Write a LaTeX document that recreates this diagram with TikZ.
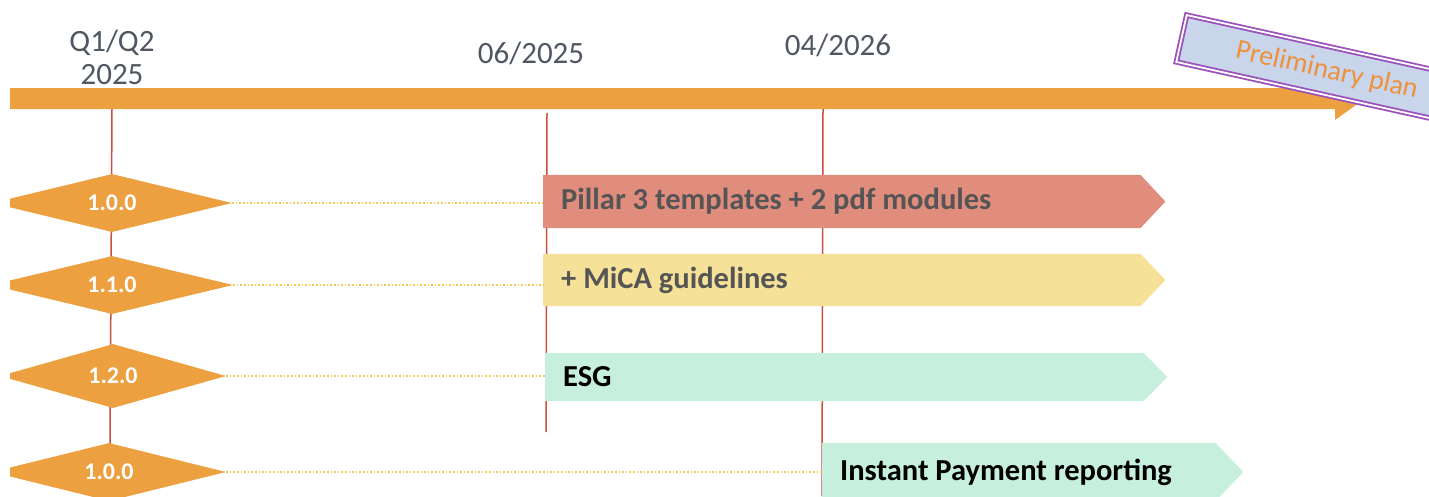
\documentclass[tikz,border=0pt]{standalone}
\usepackage{fontspec}
\setmainfont{Carlito}
\usetikzlibrary{shapes.geometric,positioning,backgrounds}

\definecolor{barorange}{HTML}{EDA040}
\definecolor{markerred}{HTML}{C9503E}
\definecolor{linkyellow}{HTML}{F2CB4E}
\definecolor{pillarred}{HTML}{E08D7D}
\definecolor{micayellow}{HTML}{F5E197}
\definecolor{esgmint}{HTML}{C6EFDE}
\definecolor{labelgray}{HTML}{4F5763}
\definecolor{boxgray}{HTML}{555555}
\definecolor{planblue}{HTML}{C9D5EA}
\definecolor{planpurple}{HTML}{9B50BA}
\definecolor{planorange}{HTML}{EE913A}

\begin{document}
\begin{tikzpicture}[
    x=1pt, y=-1pt,
    release/.style = {diamond, aspect=4, fill=barorange, minimum width=240pt, minimum height=58pt,
                      inner sep=0pt, text=white, font=\fontsize{24}{24}\selectfont\bfseries},
    module/.style  = {rectangle, anchor=west, inner xsep=18pt, inner ysep=0pt,
                      align=flush left, font=\fontsize{30.5}{30.5}\selectfont\bfseries},
    datelabel/.style = {text=labelgray, align=center, font=\fontsize{31}{33}\selectfont},
    marker/.style  = {draw=markerred, line width=1.5pt},
    link/.style    = {draw=linkyellow, dotted, line width=1.6pt},
  ]
	\useasboundingbox (0,0) rectangle (1429,496);
	\clip (10,0) rectangle (1429,496);

	% Zeitachse
	\fill[barorange] (10,88) -- (1335,88) -- (1335,77) -- (1365,98.5)
	  -- (1335,120) -- (1335,109) -- (10,109) -- cycle;

	% Zeitpunkte
	\coordinate (T1) at (112,109);
	\coordinate (T2) at (547,113);
	\coordinate (T3) at (823,109);
	\begin{scope}[on background layer]
	  \draw[marker] (T1) -- (110,445);
	  \draw[marker] (T2) -- (546,432);
	  \draw[marker] (T3) -- (822,496);
	\end{scope}

	\node[datelabel] (q12)   at (112,57) {Q1/Q2\\2025};
	\node[datelabel] (jun25) at (531,53) {06/2025};
	\node[datelabel] (apr26) at (838,45) {04/2026};

	% Versionen
	\node[release] (v100) at (112,203) {1.0.0};
	\node[release, minimum width=242pt] (v110) at (112,285) {1.1.0};
	\node[release, minimum width=226pt, minimum height=64pt] (v120) at (113,376) {1.2.0};
	\node[release, minimum width=234pt] (v100b) at (109,472) {1.0.0};

	% Module
	\node[module, text=boxgray, minimum height=53pt, text width=561pt]
	  (pillar) at (543,201.5) {Pillar 3 templates + 2 pdf modules};
	\node[module, text=boxgray, minimum height=52pt, text width=561pt]
	  (mica) at (543,280) {+ MiCA guidelines};
	\node[module, text=black, minimum height=48pt, text width=562pt]
	  (esg) at (545,377) {ESG};
	\node[module, text=black, minimum height=58pt, text width=357pt]
	  (instant) at (822,472) {Instant Payment reporting};

	\begin{scope}[on background layer]
	  \foreach \b/\c/\l in {pillar/pillarred/25, mica/micayellow/25, esg/esgmint/24, instant/esgmint/28}
	    \fill[\c] (\b.north west) -- (\b.north east) -- ([xshift=\l pt]\b.east)
	      -- (\b.south east) -- (\b.south west) -- cycle;
	\end{scope}

	% Verbindungen
	\draw[link] (v100.east)  -- (pillar.west |- v100.east);
	\draw[link] (v110.east)  -- (mica.west |- v110.east);
	\draw[link] (v120.east)  -- (esg.west |- v120.east);
	\draw[link] (v100b.east) -- (instant.west |- v100b.east);

	% Hinweis
	\node[rotate=-12.5, anchor=north west, fill=planblue, draw=planpurple, double=white,
	      double distance=1.8pt, line width=1.8pt, minimum height=48pt, inner xsep=56pt,
	      text width=240pt, align=flush left, text=planorange, font=\fontsize{28}{28}\selectfont]
	  (prelim) at (1186,14) {Preliminary plan};
\end{tikzpicture}
\end{document}
